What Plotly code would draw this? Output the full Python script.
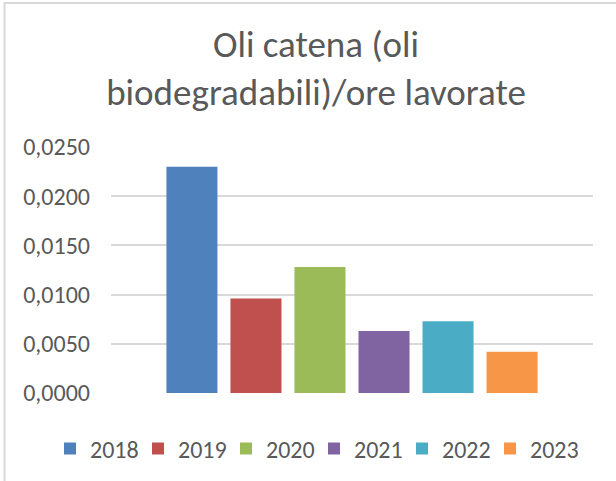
import plotly.graph_objects as go

years = ["2018", "2019", "2020", "2021", "2022", "2023"]
values = [0.0230, 0.0096, 0.0128, 0.0063, 0.0073, 0.0042]
colors = ["#4F81BD", "#C0504D", "#9BBB59", "#8064A2", "#4BACC6", "#F79646"]
category = [""]
title_text = "Oli catena (oli<br>biodegradabili)/ore lavorate"
y_ticks = [0, 0.005, 0.01, 0.015, 0.02, 0.025]

FONT = "Carlito, Calibri, Lato, sans-serif"
GREY = "#595959"
LINE = "#D9D9D9"

fig = go.Figure()
for yr, v, c in zip(years, values, colors):
    fig.add_trace(go.Bar(x=category, y=[v], name=yr, marker=dict(color=c, line=dict(width=0))))

W, H = 616, 481
L, R, T, B = 111, 23, 147, 88
pw, ph = W - L - R, H - T - B

def px_x(p):
    return (p - L) / pw

def px_y(p):
    return (H - B - p) / ph

fig.update_layout(
    width=W, height=H,
    margin=dict(l=L, r=R, t=T, b=B, pad=0, autoexpand=False),
    paper_bgcolor="white", plot_bgcolor="white",
    separators=",.",
    barmode="group", bargap=0.203, bargroupgap=0.203,
    font=dict(family=FONT, color=GREY, size=24),
    title=dict(text=title_text, xref="container", x=316 / W, xanchor="center",
               yref="container", y=1 - 56.5 / H, yanchor="top",
               font=dict(size=37, color=GREY, family=FONT)),
    xaxis=dict(showticklabels=False, showgrid=False, zeroline=False, showline=False,
               range=[-0.5, 0.5]),
    yaxis=dict(range=[0, 0.025], tickvals=y_ticks, tickformat=".4f",
               showgrid=True, gridcolor=LINE, gridwidth=1.5, zeroline=False,
               showline=False, ticks="", ticklabelstandoff=20,
               tickfont=dict(size=24, color=GREY)),
    legend=dict(orientation="h", x=px_x(50), xanchor="left", y=px_y(449), yanchor="middle",
                font=dict(size=24, color=GREY), traceorder="normal", itemwidth=30,
                entrywidth=43, entrywidthmode="pixels"),
    showlegend=True,
    shapes=[
        dict(type="line", xref="paper", yref="paper", x0=px_x(4.5), x1=px_x(4.5),
             y0=px_y(3), y1=px_y(481), line=dict(color=LINE, width=2)),
        dict(type="line", xref="paper", yref="paper", x0=px_x(3.5), x1=px_x(616),
             y0=px_y(3), y1=px_y(3), line=dict(color=LINE, width=2)),
    ],
)

fig.write_html("out.html", config={"displayModeBar": False})

with open("out.html", "r", encoding="utf-8") as f:
    html = f.read()
html = html.replace("<head>", "<head><style>html,body{margin:0;padding:0;overflow:hidden;}</style>", 1)
with open("out.html", "w", encoding="utf-8") as f:
    f.write(html)
